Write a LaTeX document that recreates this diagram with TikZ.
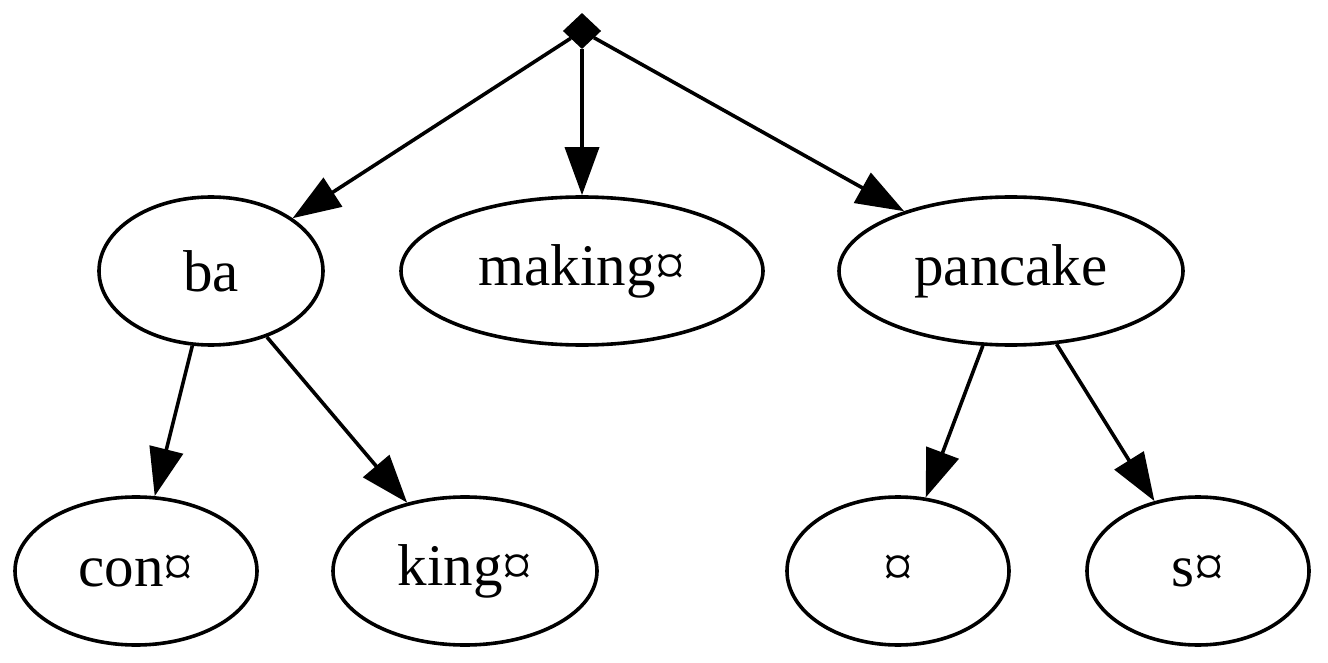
\documentclass[tikz,border=0pt]{standalone}
\usepackage{fontspec}
\setmainfont{Liberation Serif}
\usetikzlibrary{shapes.geometric,arrows.meta}
\tikzset{
  nd/.style={ellipse, draw, line width=1.8pt, minimum height=74pt, inner sep=0pt, font=\fontsize{29.5}{34}\selectfont},
  root/.style={diamond, draw, fill=black, line width=1pt, minimum width=18pt, minimum height=17pt, inner sep=0pt, aspect=1},
  edge/.style={line width=1.8pt, -{Triangle[length=24pt,width=17pt]}}
}
\begin{document}
\begin{tikzpicture}[x=0.5pt,y=-0.5pt]
\useasboundingbox (0,0) rectangle (1328,663);
\node[root] (r) at (582,31) {};
\node[nd, minimum width=112pt] (ba) at (211,271) {ba};
\node[nd, minimum width=181pt] (mk) at (582,271) {making¤};
\node[nd, minimum width=172pt] (pc) at (1011,271) {pancake};
\node[nd, minimum width=121pt] (con) at (136,571) {con¤};
\node[nd, minimum width=132pt] (kg) at (465,571) {king¤};
\node[nd, minimum width=111pt] (cu) at (898,571) {¤};
\node[nd, minimum width=111pt] (s) at (1198,571) {s¤};
\draw[edge] (r) -- (ba);
\draw[edge] (r) -- (mk);
\draw[edge] (r) -- (pc);
\draw[edge] (ba) -- (con);
\draw[edge] (ba) -- (kg);
\draw[edge] (pc) -- (cu);
\draw[edge] (pc) -- (s);
\end{tikzpicture}
\end{document}
